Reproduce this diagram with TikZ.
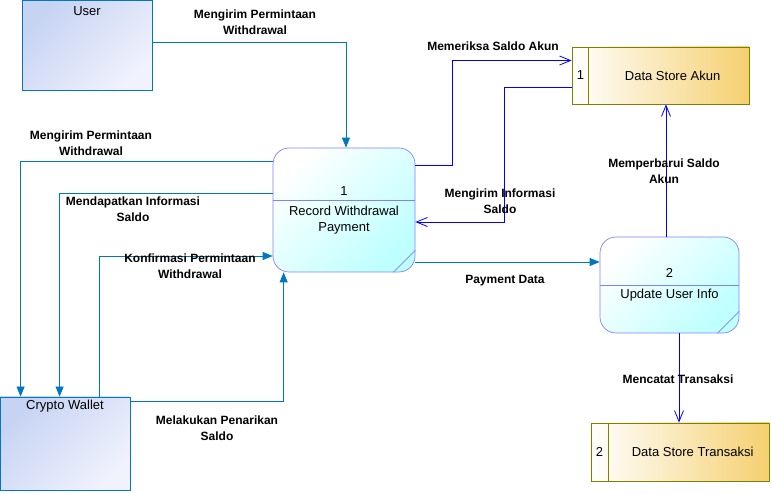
\documentclass[tikz,border=0pt]{standalone}
\usepackage{fontspec}
\setmainfont{Liberation Sans}
\usetikzlibrary{arrows.meta, calc}

\definecolor{entline}{RGB}{0,119,190}
\definecolor{entA}{RGB}{198,211,243}
\definecolor{entB}{RGB}{240,242,252}
\definecolor{procline}{RGB}{128,128,255}
\definecolor{procB}{RGB}{190,255,255}
\definecolor{storeline}{RGB}{128,128,0}
\definecolor{storeB}{RGB}{245,208,112}

\tikzset{
  entity/.style={draw=entline, top color=entA, bottom color=entB, shading angle=45, inner sep=0pt, line width=0.8pt},
  proc/.style={draw=procline, top color=white, bottom color=procB, shading angle=45, rounded corners=16pt, inner sep=0pt, line width=0.7pt},
  store/.style={draw=storeline, left color=white, right color=storeB, inner sep=0pt, line width=0.8pt},
  flow/.style={draw=entline, line width=0.8pt, -{Triangle[length=10pt,width=8pt]}},
  dflow/.style={draw=blue, line width=0.8pt, -{Straight Barb[length=11pt,width=9pt]}},
  lbl/.style={font=\fontsize{12}{16}\selectfont\bfseries, align=center, inner sep=0pt},
  txt/.style={font=\fontsize{13}{16}\selectfont, align=center, inner sep=0pt},
}

\begin{document}
\begin{tikzpicture}[x=1pt, y=-1pt]
        \useasboundingbox (0,0) rectangle (772,494);

        % external entities
        \node[entity, minimum width=130pt, minimum height=90pt] (user) at (87,45) {};
        \node[txt] (user-t) at ($(user.north)+(0,11)$) {User};
        \node[entity, minimum width=130pt, minimum height=93pt] (cw) at (65,443.5) {};
        \node[txt] (cw-t) at ($(cw.north)+(0,10)$) {Crypto Wallet};

        % processes
        \node[proc, minimum width=142pt, minimum height=124pt] (p1) at (344,210) {};
        \draw[procline, line width=0.7pt] ($(p1.north west)+(0,53)$) -- ($(p1.north east)+(0,53)$);
        \draw[procline, line width=0.7pt] ($(p1.south east)+(-22,0)$) -- ($(p1.south east)+(0,-22)$);
        \node[txt] (p1-n) at ($(p1.north)+(0,43)$) {1};
        \node[txt] (p1-t) at ($(p1.north)+(0,72)$) {Record Withdrawal\\Payment};

        \node[proc, minimum width=139pt, minimum height=96pt] (p2) at (669.5,285) {};
        \draw[procline, line width=0.7pt] ($(p2.north west)+(0,49)$) -- ($(p2.north east)+(0,49)$);
        \draw[procline, line width=0.7pt] ($(p2.south east)+(-22,0)$) -- ($(p2.south east)+(0,-22)$);
        \node[txt] (p2-n) at ($(p2.north)+(0,36)$) {2};
        \node[txt] (p2-t) at ($(p2.north)+(0,58)$) {Update User Info};

        % data stores
        \node[store, minimum width=177pt, minimum height=57pt] (dsa) at (660.5,75.5) {};
        \draw[storeline, line width=0.8pt] ($(dsa.north west)+(17,0)$) -- ($(dsa.south west)+(17,0)$);
        \node[txt] (dsa-n) at ($(dsa.west)+(9,0)$) {1};
        \node[txt] (dsa-t) at ($(dsa.west)+(101,0)$) {Data Store Akun};

        \node[store, minimum width=178pt, minimum height=58pt] (dst) at (680,452) {};
        \draw[storeline, line width=0.8pt] ($(dst.north west)+(18,0)$) -- ($(dst.south west)+(18,0)$);
        \node[txt] (dst-n) at ($(dst.west)+(9,0)$) {2};
        \node[txt] (dst-t) at ($(dst.west)+(102,0)$) {Data Store Transaksi};

        % flows
        \draw[flow] ($(user.east)+(0,-3)$) -| ($(p1.north)+(2,0)$);
        \draw[flow] ($(p1.west)+(0,-49)$) -| ($(cw.north west)+(21,0)$);
        \draw[flow] ($(p1.west)+(0,-17)$) -| ($(cw.north west)+(60,0)$);
        \draw[flow] ($(cw.north west)+(100,0)$) |- ($(p1.west)+(0,46)$);
        \draw[flow] ($(cw.north east)+(0,5)$) -| ($(p1.south west)+(11,0)$);
        \draw[dflow] ($(p1.east)+(0,-45)$) -- ++(37,0) |- ($(dsa.west)+(0,-15)$);
        \draw[dflow] ($(dsa.west)+(0,11.5)$) -- ++(-67,0) |- ($(p1.east)+(0,12)$);
        \draw[flow] ($(p1.east)+(0,52)$) -- ($(p2.west)+(0,-23)$);
        \draw[dflow] ($(p2.north)+(-3.5,0)$) -- ($(dsa.south)+(5.5,0)$);
        \draw[dflow] ($(p2.south)+(9.5,0)$) -- ($(dst.north)+(-1,0)$);

        % flow labels
        \node[lbl] (l-req1) at (255,22.5) {Mengirim Permintaan\\Withdrawal};
        \node[lbl] (l-req2) at (91,143.5) {Mengirim Permintaan\\Withdrawal};
        \node[lbl] (l-info) at (133,209) {Mendapatkan Informasi\\Saldo};
        \node[lbl] (l-konf) at (190,266) {Konfirmasi Permintaan\\Withdrawal};
        \node[lbl] (l-tarik) at (217,428) {Melakukan Penarikan\\Saldo};
        \node[lbl] (l-cek) at (493,46) {Memeriksa Saldo Akun};
        \node[lbl] (l-saldo) at (500,201) {Mengirim Informasi\\Saldo};
        \node[lbl] (l-pay) at (505,281) {Payment Data};
        \node[lbl] (l-upd) at (664,171) {Memperbarui Saldo\\Akun};
        \node[lbl] (l-cat) at (678,379) {Mencatat Transaksi};
\end{tikzpicture}
\end{document}
